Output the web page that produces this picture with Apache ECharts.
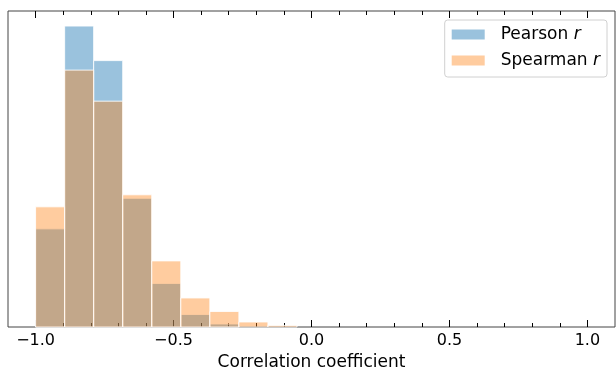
<!DOCTYPE html>
<html>
<head>
<meta charset="utf-8">
<style>
  html, body { margin: 0; padding: 0; background: #fff; }
  #chart { width: 616px; height: 367px; }
</style>
<script src="https://cdn.jsdelivr.net/npm/echarts@6/dist/echarts.min.js"></script>
</head>
<body>
<div id="chart"></div>
<script>
// bin edges (19 bins between -1 and 1)
var binEdges = [-1.0, -0.8947, -0.7895, -0.6842, -0.5789, -0.4737, -0.3684, -0.2632, -0.1579, -0.0526,
  0.0526, 0.1579, 0.2632, 0.3684, 0.4737, 0.5789, 0.6842, 0.7895, 0.8947, 1.0];

// bar heights per bin
var pearson = [98, 300.5, 266, 128.5, 43.5, 12.5, 3, 0, 0, 0, 0, 0, 0, 0, 0, 0, 0, 0, 0];
var spearman = [120, 256.5, 225.5, 132, 66, 29, 15.5, 5, 1.6, 0, 0, 0, 0, 0, 0, 0, 0, 0, 0];

var majorTicks = [-1.0, -0.5, 0.0, 0.5, 1.0];
var minorTicks = [-1.0, -0.9, -0.8, -0.7, -0.6, -0.5, -0.4, -0.3, -0.2, -0.1, 0.0,
  0.1, 0.2, 0.3, 0.4, 0.5, 0.6, 0.7, 0.8, 0.9, 1.0];

var FONT = 'DejaVu Sans';

// 直方图数据
function binData(counts) {
  var rows = [];
  for (var i = 0; i < counts.length; i++) {
    if (counts[i] > 0) {
      rows.push([binEdges[i], binEdges[i + 1], counts[i]]);
    }
  }
  return rows;
}

function histSeries(name, data, color) {
  return {
    name: name,
    type: 'custom',
    xAxisIndex: 0,
    yAxisIndex: 0,
    itemStyle: { color: color },
    encode: { x: [0, 1], y: 2 },
    data: binData(data),
    renderItem: function (params, api) {
      var p0 = api.coord([api.value(0), api.value(2)]);
      var p1 = api.coord([api.value(1), 0]);
      return {
        type: 'rect',
        shape: { x: p0[0], y: p0[1], width: p1[0] - p0[0], height: p1[1] - p0[1] },
        style: { fill: color, stroke: 'rgba(255,255,255,0.85)', lineWidth: 1 }
      };
    }
  };
}

function tickAxis(position, values, len, showLabel) {
  return {
    type: 'value',
    position: position,
    min: -1.1,
    max: 1.1,
    axisLine: { show: false },
    splitLine: { show: false },
    axisTick: {
      show: true,
      inside: true,
      length: len,
      customValues: values,
      lineStyle: { color: '#000', width: 1 }
    },
    axisLabel: {
      show: showLabel,
      customValues: values,
      margin: 6,
      fontFamily: FONT,
      fontSize: 16,
      color: '#000',
      formatter: function (v) {
        return v.toFixed(1).replace('-', '\u2212');
      }
    }
  };
}

var chart = echarts.init(document.getElementById('chart'));

var xMain = tickAxis('bottom', majorTicks, 7, true);
xMain.name = 'Correlation coefficient';
xMain.nameLocation = 'middle';
xMain.nameGap = 21;
xMain.nameTextStyle = { fontFamily: FONT, fontSize: 17, color: '#000' };

var maxVal = Math.max.apply(null, pearson.concat(spearman));

chart.setOption({
  animation: false,
  grid: {
    left: 8,
    right: 1,
    top: 11,
    bottom: 40,
    outerBoundsMode: 'none',
    containLabel: false,
    show: true,
    borderColor: '#444',
    borderWidth: 1
  },
  legend: {
    right: 9,
    top: 20,
    orient: 'vertical',
    icon: 'rect',
    itemWidth: 33,
    itemHeight: 10,
    itemGap: 9,
    padding: [6, 7, 8, 7],
    backgroundColor: 'rgba(255,255,255,0.8)',
    borderColor: '#d0d0d0',
    borderWidth: 1,
    borderRadius: 3,
    data: ['Pearson r', 'Spearman r'],
    formatter: function (name) {
      var p = name.split(' ');
      return '{s|}{t|' + p[0] + ' }{i|' + p[1] + '}';
    },
    textStyle: {
      fontFamily: FONT,
      fontSize: 17,
      color: '#000',
      rich: {
        s: { width: 11 },
        t: { fontFamily: FONT, fontSize: 17, color: '#000' },
        i: { fontFamily: FONT, fontSize: 17, fontStyle: 'italic', color: '#000' }
      }
    }
  },
  xAxis: [
    xMain,
    tickAxis('bottom', minorTicks, 4, false),
    tickAxis('top', majorTicks, 7, false),
    tickAxis('top', minorTicks, 4, false)
  ],
  yAxis: {
    type: 'value',
    min: 0,
    max: maxVal * 1.05,
    axisLine: { show: false },
    axisTick: { show: false },
    axisLabel: { show: false },
    splitLine: { show: false }
  },
  series: [
    histSeries('Pearson r', pearson, 'rgba(31,119,180,0.45)'),
    histSeries('Spearman r', spearman, 'rgba(255,127,14,0.4)')
  ]
});
</script>
</body>
</html>
